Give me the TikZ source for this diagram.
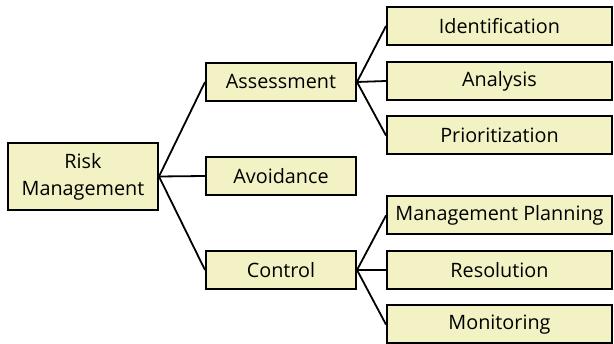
\documentclass[tikz,border=0pt]{standalone}
\usepackage{fontspec}
\setmainfont{Open Sans}
\usetikzlibrary{positioning}
\definecolor{boxfill}{RGB}{242,242,196}

\begin{document}
\begin{tikzpicture}[
    x=1pt, y=-1pt,
    topbox/.style={draw, line width=2pt, fill=boxfill, minimum width=150pt, minimum height=67pt, align=center, inner sep=0pt, font=\fontsize{19.8}{27}\selectfont},
    midbox/.style={draw, line width=2pt, fill=boxfill, minimum width=150pt, minimum height=38pt, inner sep=0pt, font=\fontsize{19.8}{27}\selectfont},
    leafbox/.style={draw, line width=2pt, fill=boxfill, minimum width=225pt, minimum height=38pt, inner sep=0pt, font=\fontsize{19.8}{27}\selectfont},
    link/.style={line width=1.8pt, black}
]

% fixed frame of the picture
\useasboundingbox (0,0) rectangle (614,344);

% Root
\node[topbox] (risk) at (83,176.5) {Risk\\Management};

% Second level
\node[midbox] (assess) at (281,82) {Assessment};
\node[midbox] (avoid) at (281,176) {Avoidance};
\node[midbox] (control) at (281,270) {Control};

% Leaves of Assessment
\node[leafbox] (ident) at (499.5,26) {Identification};
\node[leafbox] (analysis) at (499.5,81) {Analysis};
\node[leafbox] (prior) at (499.5,135.5) {Prioritization};

% Leaves of Control
\node[leafbox] (plan) at (499.5,215.5) {Management Planning};
\node[leafbox] (resol) at (499.5,270) {Resolution};
\node[leafbox] (monit) at (499.5,324.5) {Monitoring};

% Connectors
\foreach \kid in {assess, avoid, control}
    \draw[link] (risk.east) -- (\kid.west);
\foreach \kid in {ident, analysis, prior}
    \draw[link] (assess.east) -- (\kid.west);
\foreach \kid in {plan, resol, monit}
    \draw[link] (control.east) -- (\kid.west);

\end{tikzpicture}
\end{document}
